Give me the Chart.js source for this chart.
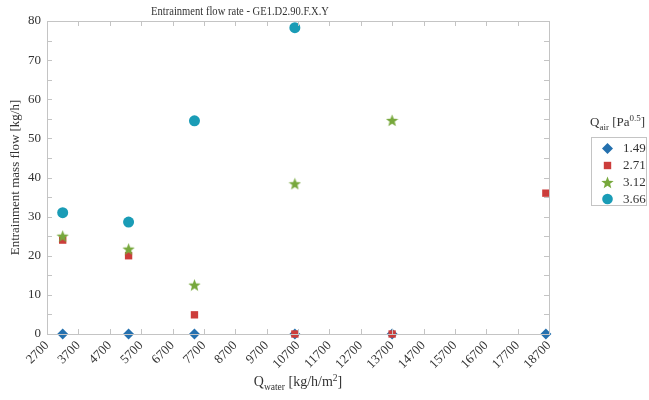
<!DOCTYPE html>
<html><head><meta charset="utf-8">
<script src="https://cdn.jsdelivr.net/npm/chart.js@4.4.0/dist/chart.umd.min.js"></script>
<style>html,body{margin:0;padding:0;background:#fff;} #wrap{width:649px;height:400px;position:relative;}</style>
</head><body><div id="wrap"><canvas id="c" width="649" height="400"></canvas></div>
<script>
// ---- data ----
const chartTitle = 'Entrainment flow rate - GE1.D2.90.F.X.Y';
const seriesNames = ['1.49', '2.71', '3.12', '3.66'];
const xWater = [3200, 5300, 7400, 10600, 13700, 18600];
const flow149 = [0, 0, 0, 0, 0, 0];
const flow271 = [24, 20, 4.9, 0, 0, 36];
const flow312 = [25, 21.7, 12.5, 38.4, 54.6, null];
const flow366 = [31, 28.6, 54.5, 78.3, null, null];
const xTicks = [2700, 3700, 4700, 5700, 6700, 7700, 8700, 9700, 10700, 11700, 12700, 13700, 14700, 15700, 16700, 17700, 18700];
const yTicks = [0, 10, 20, 30, 40, 50, 60, 70, 80];
const yMinorTicks = [5, 15, 25, 35, 45, 55, 65, 75];

const colors = ['#2470ae', '#cc3d3b', '#77a83c', '#1a9cb6'];
const FONT = '"Liberation Serif", "DejaVu Serif", serif';
const TXT = '#333333';
const FRAME = '#c4c4c4';

function makeStar(size, color) {
  const c = document.createElement('canvas');
  c.width = size; c.height = size;
  const g = c.getContext('2d');
  g.fillStyle = color;
  g.beginPath();
  const cx = size / 2, cy = size / 2 + size * 0.04;
  for (let i = 0; i < 10; i++) {
    const r = (i % 2 === 0) ? size * 0.5 : size * 0.21;
    const a = -Math.PI / 2 + i * Math.PI / 5;
    const px = cx + r * Math.cos(a), py = cy + r * Math.sin(a);
    if (i === 0) g.moveTo(px, py); else g.lineTo(px, py);
  }
  g.closePath();
  g.fill();
  return c;
}
const starImg = makeStar(13, colors[2]);

function toPoints(arr) {
  return xWater.map((x, i) => ({ x: x, y: arr[i] })).filter(p => p.y !== null);
}

const styles = [
  { pointStyle: 'rectRot', radius: 5.5 },
  { pointStyle: 'rect', radius: 5.2 },
  { pointStyle: starImg, radius: 6 },
  { pointStyle: 'circle', radius: 5.5 }
];
const seriesData = [flow149, flow271, flow312, flow366];

const datasets = seriesNames.map((name, i) => ({
  label: name,
  data: toPoints(seriesData[i]),
  pointStyle: styles[i].pointStyle,
  pointRadius: styles[i].radius,
  backgroundColor: colors[i],
  borderColor: colors[i],
  borderWidth: 0,
  showLine: false,
  clip: false,
  order: 4 - i
}));

function drawRich(ctx, parts, x, y, align) {
  let total = 0;
  parts.forEach(p => { ctx.font = p[1] + 'px ' + FONT; total += ctx.measureText(p[0]).width; });
  let cx = align === 'center' ? x - total / 2 : x;
  ctx.textAlign = 'left';
  parts.forEach(p => {
    ctx.font = p[1] + 'px ' + FONT;
    ctx.fillText(p[0], cx, y + p[2]);
    cx += ctx.measureText(p[0]).width;
  });
}

const decor = {
  id: 'decor',
  afterDraw(chart) {
    const ctx = chart.ctx;
    const a = chart.chartArea;
    const xs = chart.scales.x, ys = chart.scales.y;
    ctx.save();
    ctx.strokeStyle = FRAME;
    ctx.lineWidth = 1;
    ctx.strokeRect(Math.round(a.left) + 0.5, Math.round(a.top) + 0.5, Math.round(a.right - a.left), Math.round(a.bottom - a.top));
    ctx.beginPath();
    xTicks.forEach(v => {
      const px = Math.round(xs.getPixelForValue(v)) + 0.5;
      ctx.moveTo(px, a.bottom); ctx.lineTo(px, a.bottom - 5);
      ctx.moveTo(px, a.top); ctx.lineTo(px, a.top + 5);
    });
    yTicks.concat(yMinorTicks).forEach(v => {
      const py = Math.round(ys.getPixelForValue(v)) + 0.5;
      ctx.moveTo(a.left, py); ctx.lineTo(a.left + 5, py);
      ctx.moveTo(a.right, py); ctx.lineTo(a.right - 5, py);
    });
    ctx.stroke();

    ctx.fillStyle = TXT;
    ctx.textBaseline = 'alphabetic';
    // title (slightly condensed)
    ctx.font = '13px ' + FONT;
    const tw = ctx.measureText(chartTitle).width;
    const sx = 178 / tw;
    ctx.save();
    ctx.translate(240, 15);
    ctx.scale(sx, 1);
    ctx.textAlign = 'center';
    ctx.fillText(chartTitle, 0, 0);
    ctx.restore();

    // y axis title
    ctx.save();
    ctx.translate(16, (a.top + a.bottom) / 2);
    ctx.rotate(-Math.PI / 2);
    ctx.textAlign = 'center';
    ctx.textBaseline = 'middle';
    ctx.font = '13px ' + FONT;
    ctx.fillText('Entrainment mass flow [kg/h]', 0, 0);
    ctx.restore();

    // x axis title
    ctx.textBaseline = 'alphabetic';
    drawRich(ctx, [['Q', 14, 0], ['water', 9.5, 4], [' [kg/h/m', 14, 0], ['2', 9.5, -5.5], [']', 14, 0]],
      (a.left + a.right) / 2, 386, 'center');

    // legend title
    drawRich(ctx, [['Q', 13, 0], ['air', 9, 4], [' [Pa', 13, 0], ['0.5', 9, -5], [']', 13, 0]], 590, 126, 'left');

    // legend box
    ctx.strokeStyle = FRAME;
    ctx.strokeRect(591.5, 137.5, 55, 68);
    const rows = [148.5, 165.5, 182.5, 199];
    rows.forEach((ry, i) => {
      const mx = 607.5;
      ctx.fillStyle = colors[i];
      if (i === 0) {
        ctx.beginPath();
        ctx.moveTo(mx, ry - 5.5); ctx.lineTo(mx + 5.5, ry); ctx.lineTo(mx, ry + 5.5); ctx.lineTo(mx - 5.5, ry);
        ctx.closePath(); ctx.fill();
      } else if (i === 1) {
        ctx.fillRect(mx - 3.7, ry - 3.7, 7.4, 7.4);
      } else if (i === 2) {
        ctx.drawImage(starImg, mx - starImg.width / 2, ry - starImg.height / 2);
      } else {
        ctx.beginPath(); ctx.arc(mx, ry, 5.3, 0, Math.PI * 2); ctx.fill();
      }
      ctx.fillStyle = TXT;
      ctx.font = '13px ' + FONT;
      ctx.textAlign = 'left';
      ctx.textBaseline = 'middle';
      ctx.fillText(seriesNames[i], 623, ry + 0.5);
    });
    ctx.restore();
  }
};

new Chart(document.getElementById('c'), {
  type: 'scatter',
  data: { datasets: datasets },
  options: {
    responsive: false,
    animation: false,
    devicePixelRatio: 1,
    layout: { padding: { top: 21, right: 100, left: 0, bottom: 0 } },
    plugins: { legend: { display: false }, tooltip: { enabled: false }, title: { display: false } },
    scales: {
      x: {
        type: 'linear', min: 2700, max: 18700,
        afterBuildTicks: s => { s.ticks = xTicks.map(v => ({ value: v })); },
        afterFit: s => { s.height = 66; },
        grid: { display: false, drawTicks: false },
        border: { display: false },
        ticks: { autoSkip: false, maxRotation: 45, minRotation: 45, padding: 4, color: TXT,
          font: { family: FONT, size: 13 }, callback: v => String(v) }
      },
      y: {
        type: 'linear', min: 0, max: 80,
        afterBuildTicks: s => { s.ticks = yTicks.map(v => ({ value: v })); },
        afterFit: s => { s.width = 47; },
        grid: { display: false, drawTicks: false },
        border: { display: false },
        ticks: { padding: 6, color: TXT, font: { family: FONT, size: 13 }, callback: v => String(v) }
      }
    }
  },
  plugins: [decor]
});
</script>
</body></html>
